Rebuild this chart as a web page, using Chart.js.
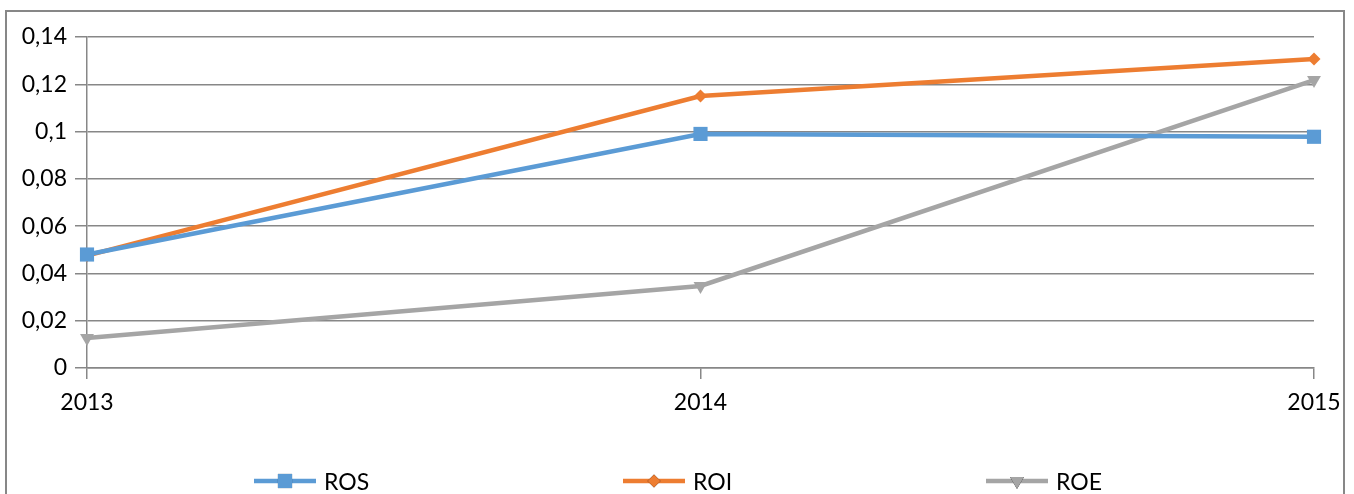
<!DOCTYPE html>
<html>
<head>
<meta charset="utf-8">
<script src="https://cdn.jsdelivr.net/npm/chart.js@4/dist/chart.umd.min.js"></script>
<style>
  html, body { margin: 0; padding: 0; background: #fff; }
  #wrap { position: relative; width: 1354px; height: 494px; overflow: hidden; }
  #frame { position: absolute; left: 5px; top: 10px; width: 1340px; height: 600px; border: 2px solid #878787; box-sizing: border-box; }
  canvas#c { position: absolute; left: 0; top: 0; }
  #legend { position: absolute; left: 254px; top: 468px; height: 26px; font-family: Lato, "Open Sans", sans-serif; font-size: 23px; color: #000; }
  .item { position: absolute; top: 0; display: flex; align-items: center; height: 26px; white-space: nowrap; }
  .item canvas { margin-right: 8px; }
</style>
</head>
<body>
<div id="wrap">
  <div id="frame"></div>
  <canvas id="c" width="1354" height="494"></canvas>
  <div id="legend"></div>
</div>
<script>
const categories = ['2013', '2014', '2015'];
const ros = [0.048, 0.099, 0.0978];
const roi = [0.0475, 0.115, 0.1307];
const roe = [0.0127, 0.0347, 0.1218];
const yTickLabels = ['0', '0,02', '0,04', '0,06', '0,08', '0,1', '0,12', '0,14'];
const seriesNames = ['ROS', 'ROI', 'ROE'];
const seriesColors = ['#5B9BD5', '#ED7D31', '#A5A5A5'];

const FONT = { family: 'Lato, "Open Sans", sans-serif', size: 23 };
const GRID = '#878787';

const styles = [
  { pointStyle: 'rect', pointRadius: 10, rotation: 0 },
  { pointStyle: 'rectRot', pointRadius: 6.5, rotation: 0 },
  { pointStyle: 'triangle', pointRadius: 8, rotation: 180 }
];
const values = [ros, roi, roe];

const datasets = seriesNames.map((name, i) => ({
  label: name,
  data: values[i],
  borderColor: seriesColors[i],
  backgroundColor: seriesColors[i],
  pointBackgroundColor: seriesColors[i],
  pointBorderColor: seriesColors[i],
  pointBorderWidth: 0,
  borderWidth: 4.5,
  tension: 0,
  pointStyle: styles[i].pointStyle,
  pointRadius: styles[i].pointRadius,
  pointHoverRadius: styles[i].pointRadius,
  pointRotation: styles[i].rotation,
  clip: false
}));

const chart = new Chart(document.getElementById('c'), {
  type: 'line',
  data: { labels: categories, datasets },
  options: {
    responsive: false,
    animation: false,
    devicePixelRatio: 1,
    layout: { padding: { left: 6, top: 37, right: 40, bottom: 0 } },
    plugins: { legend: { display: false }, tooltip: { enabled: false } },
    scales: {
      x: {
        type: 'category',
        offset: false,
        grid: { drawOnChartArea: false, drawTicks: true, tickLength: 11, color: GRID, lineWidth: 1.5 },
        border: { display: true, color: GRID, width: 1.5 },
        ticks: { color: '#000', font: FONT, padding: 10, maxRotation: 0, autoSkip: false },
        afterFit: (s) => { s.height = 126; }
      },
      y: {
        min: 0, max: 0.14,
        ticks: {
          stepSize: 0.02, color: '#000', font: FONT, padding: 8,
          callback: (v, idx) => yTickLabels[idx]
        },
        grid: { color: GRID, lineWidth: 1.5, drawTicks: true, tickLength: 12 },
        border: { display: true, color: GRID, width: 1.5 },
        afterFit: (s) => { s.width = 81; }
      }
    }
  }
});

// HTML legend with line+marker icons
const legend = document.getElementById('legend');
const offsets = [0, 369, 732];
seriesNames.forEach((name, i) => {
  const item = document.createElement('div');
  item.className = 'item';
  item.style.left = offsets[i] + 'px';
  const ic = document.createElement('canvas');
  ic.width = 62; ic.height = 22;
  const ctx = ic.getContext('2d');
  ctx.strokeStyle = seriesColors[i];
  ctx.lineWidth = 4.5;
  ctx.beginPath(); ctx.moveTo(0, 11); ctx.lineTo(62, 11); ctx.stroke();
  Chart.helpers.drawPoint(ctx, {
    pointStyle: styles[i].pointStyle, radius: styles[i].pointRadius,
    rotation: styles[i].rotation, borderWidth: 0
  }, 31, 11);
  ctx.fillStyle = seriesColors[i];
  ctx.fill();
  item.appendChild(ic);
  const t = document.createElement('span');
  t.textContent = name;
  item.appendChild(t);
  legend.appendChild(item);
});
</script>
</body>
</html>
